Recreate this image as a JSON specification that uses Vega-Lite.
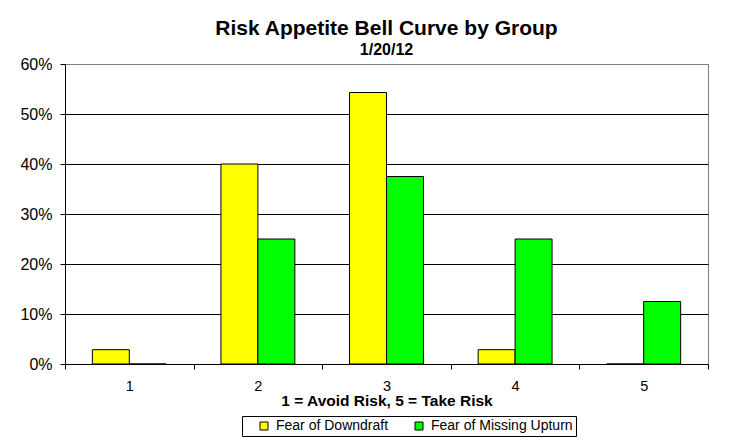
{
  "$schema": "https://vega.github.io/schema/vega-lite/v6.json",
  "width": 643,
  "height": 300,
  "autosize": {"type": "none"},
  "padding": {"left": 65, "top": 64, "right": 40, "bottom": 83},
  "background": "white",
  "title": {
    "text": "Risk Appetite Bell Curve by Group",
    "subtitle": "1/20/12",
    "font": "Liberation Sans",
    "fontSize": 21,
    "fontWeight": "bold",
    "color": "black",
    "subtitleFont": "Liberation Sans",
    "subtitleFontSize": 16,
    "subtitleFontWeight": "bold",
    "subtitleColor": "black",
    "subtitlePadding": 3,
    "anchor": "middle",
    "offset": -2
  },
  "data": {
    "values": [
      {"rating": "1", "group": "Fear of Downdraft", "share": 0.0286},
      {"rating": "1", "group": "Fear of Missing Upturn", "share": 0},
      {"rating": "2", "group": "Fear of Downdraft", "share": 0.4},
      {"rating": "2", "group": "Fear of Missing Upturn", "share": 0.25},
      {"rating": "3", "group": "Fear of Downdraft", "share": 0.543},
      {"rating": "3", "group": "Fear of Missing Upturn", "share": 0.375},
      {"rating": "4", "group": "Fear of Downdraft", "share": 0.0286},
      {"rating": "4", "group": "Fear of Missing Upturn", "share": 0.25},
      {"rating": "5", "group": "Fear of Downdraft", "share": 0},
      {"rating": "5", "group": "Fear of Missing Upturn", "share": 0.125}
    ]
  },
  "mark": {"type": "bar", "stroke": "black", "strokeWidth": 1},
  "encoding": {
    "x": {
      "field": "rating",
      "type": "nominal",
      "scale": {"paddingInner": 0, "paddingOuter": 0},
      "axis": {
        "title": "1 = Avoid Risk, 5 = Take Risk",
        "titleFont": "Liberation Sans",
        "titleFontSize": 15.5,
        "titleFontWeight": "bold",
        "titleColor": "black",
        "titlePadding": 1,
        "labelAngle": 0,
        "labelFont": "Liberation Sans",
        "labelFontSize": 14.5,
        "labelColor": "black",
        "labelPadding": 10,
        "tickBand": "extent",
        "tickSize": 5,
        "tickColor": "black",
        "domainColor": "black",
        "grid": false
      }
    },
    "xOffset": {
      "field": "group",
      "type": "nominal",
      "scale": {"paddingInner": 0, "paddingOuter": 0.74}
    },
    "y": {
      "field": "share",
      "type": "quantitative",
      "scale": {"domain": [0, 0.6], "nice": false},
      "axis": {
        "title": null,
        "format": ".0%",
        "values": [0, 0.1, 0.2, 0.3, 0.4, 0.5, 0.6],
        "labelFont": "Liberation Sans",
        "labelFontSize": 16,
        "labelColor": "black",
        "labelPadding": 8,
        "tickSize": 5,
        "tickColor": "black",
        "domainColor": "black",
        "grid": true,
        "gridColor": {"condition": {"test": "datum.value >= 0.6", "value": "#808080"}, "value": "black"},
        "gridOpacity": 1
      }
    },
    "color": {
      "field": "group",
      "type": "nominal",
      "scale": {
        "domain": ["Fear of Downdraft", "Fear of Missing Upturn"],
        "range": ["#FFFF00", "#00FF00"]
      },
      "legend": {
        "title": null,
        "orient": "none",
        "legendX": 177,
        "legendY": 352,
        "direction": "horizontal",
        "symbolType": "square",
        "symbolSize": 64,
        "symbolStrokeColor": "black",
        "symbolStrokeWidth": 1,
        "symbolOpacity": 1,
        "symbolOffset": 12,
        "labelFont": "Liberation Sans",
        "labelFontSize": 14,
        "labelColor": "black",
        "labelOffset": 5,
        "columnPadding": 11,
        "strokeColor": "black",
        "padding": 3
      }
    }
  },
  "config": {
    "view": {"stroke": "#808080", "strokeWidth": 1},
    "axis": {"domainWidth": 1, "tickWidth": 1, "gridWidth": 1}
  }
}
